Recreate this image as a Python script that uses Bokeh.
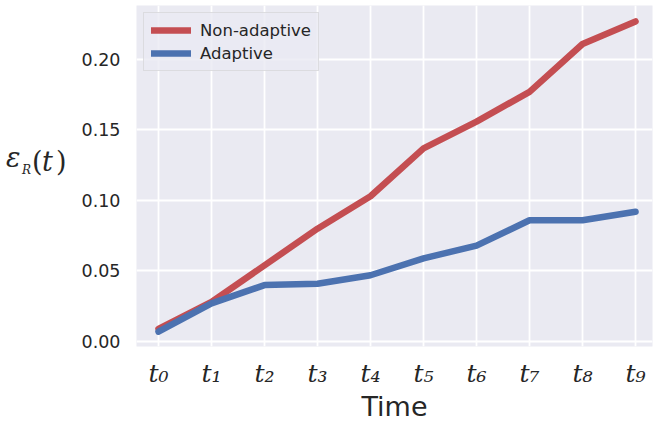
from bokeh.plotting import figure
from bokeh.models import Range1d, FixedTicker, Legend, LegendItem, PrintfTickFormatter, Div
from bokeh.layouts import row
from bokeh.embed import file_html
from bokeh.resources import INLINE

steps = list(range(10))
tick_labels = ["t₀", "t₁", "t₂", "t₃", "t₄", "t₅", "t₆", "t₇", "t₈", "t₉"]
non_adaptive = [0.009, 0.028, 0.054, 0.080, 0.103, 0.137, 0.156, 0.177, 0.211, 0.227]
adaptive = [0.007, 0.027, 0.040, 0.041, 0.047, 0.059, 0.068, 0.086, 0.086, 0.092]
y_ticks = [0.0, 0.05, 0.10, 0.15, 0.20]

TXT = "#262626"
DIV_W = 72

p = figure(width=653 - DIV_W, height=424, output_backend="svg", toolbar_location=None,
           x_range=Range1d(-0.415, 9.32), y_range=Range1d(-0.00355, 0.2383),
           min_border_left=136 - DIV_W, min_border_right=1, min_border_top=5, min_border_bottom=78)
p.background_fill_color = "#EAEAF2"
p.border_fill_color = "white"
p.outline_line_color = None
for g in (p.xgrid, p.ygrid):
    g.grid_line_color = "white"
    g.grid_line_width = 1.8

p.xaxis.ticker = FixedTicker(ticks=steps)
p.xaxis.major_label_overrides = {i: lab for i, lab in zip(steps, tick_labels)}
p.xaxis.major_label_text_font = "DejaVu Serif"
p.xaxis.major_label_text_font_style = "italic"
p.xaxis.major_label_text_font_size = "25px"
p.xaxis.major_label_standoff = 12
p.xaxis.axis_label = "Time"
p.xaxis.axis_label_text_font = "DejaVu Sans"
p.xaxis.axis_label_text_font_style = "normal"
p.xaxis.axis_label_text_font_size = "27px"
p.xaxis.axis_label_text_color = TXT
p.xaxis.axis_label_standoff = 0

p.yaxis.ticker = FixedTicker(ticks=y_ticks)
p.yaxis.formatter = PrintfTickFormatter(format="%.2f")
p.yaxis.major_label_text_font = "DejaVu Sans"
p.yaxis.major_label_text_font_size = "17.5px"
p.yaxis.major_label_standoff = 16

for ax in (p.xaxis, p.yaxis):
    ax.axis_line_color = None
    ax.major_tick_line_color = None
    ax.minor_tick_line_color = None
    ax.major_tick_out = 0
    ax.major_tick_in = 0
    ax.major_label_text_color = TXT

r1 = p.line(steps, non_adaptive, line_color="#C44E52", line_width=6.5, line_cap="round", line_join="round")
r2 = p.line(steps, adaptive, line_color="#4C72B0", line_width=6.5, line_cap="round", line_join="round")

legend = Legend(items=[LegendItem(label="Non-adaptive", renderers=[r1]),
                       LegendItem(label="Adaptive", renderers=[r2])],
                location="top_left", margin=7, padding=7, spacing=3,
                glyph_width=40, glyph_height=20, label_height=20, label_standoff=9,
                label_text_font="DejaVu Sans", label_text_font_size="16.5px", label_text_color=TXT,
                background_fill_color="#EAEAF2", background_fill_alpha=0.8,
                border_line_color="#CCCCCC", border_line_width=1.5)
p.add_layout(legend)

# y-axis label  ε_R(t)  as real text in a side Div
base = "position:absolute;font-family:'DejaVu Serif';line-height:1;color:%s;white-space:nowrap;" % TXT
ylabel_html = (
    '<div style="position:relative;width:%dpx;height:424px;">' % DIV_W
    + '<span style="%sleft:6px;top:144px;font-size:27px;font-style:italic;">ε</span>' % base
    + '<span style="%sleft:22px;top:164px;font-size:12px;font-style:italic;">R</span>' % base
    + '<span style="%sleft:32px;top:148px;font-size:27px;">(</span>' % base
    + '<span style="%sleft:42px;top:148px;font-size:27px;font-style:italic;">t</span>' % base
    + '<span style="%sleft:56px;top:148px;font-size:27px;">)</span>' % base
    + '</div>'
)
ylab = Div(text=ylabel_html, width=DIV_W, height=424, margin=0)

layout = row(ylab, p, spacing=0)
open("out.html", "w").write(file_html(layout, INLINE))
